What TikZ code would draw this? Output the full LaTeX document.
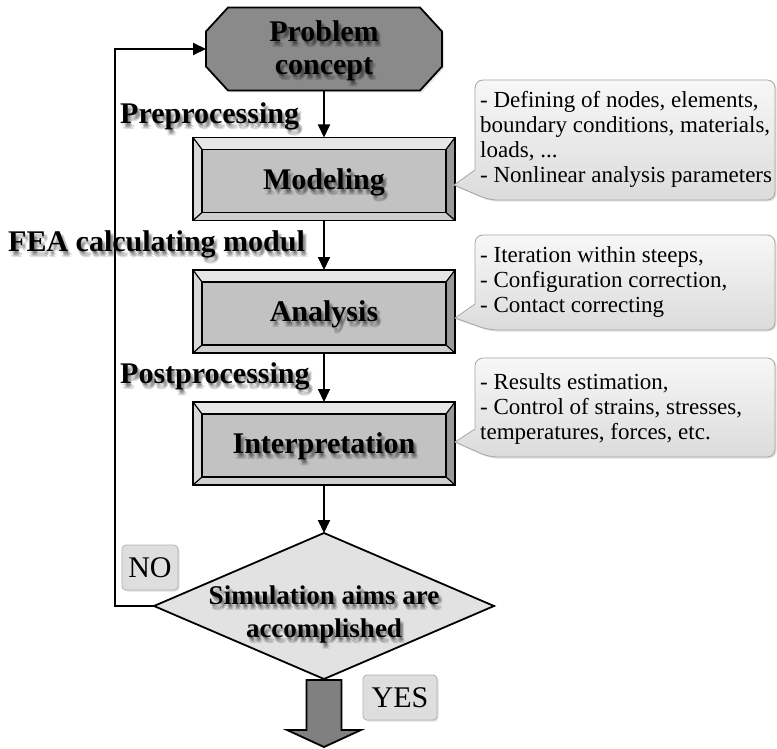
\documentclass[tikz,border=0pt]{standalone}
\usepackage{fontspec}
\setmainfont{Liberation Serif}
\usetikzlibrary{calc,shapes.geometric,arrows.meta,shadows}

\definecolor{face}{HTML}{C2C2C2}
\definecolor{bvtop}{HTML}{E6E6E6}
\definecolor{bvleft}{HTML}{D8D8D8}
\definecolor{bvright}{HTML}{999999}
\definecolor{bvbot}{HTML}{CFCFCF}
\definecolor{octfill}{HTML}{8A8A8A}
\definecolor{diafill}{HTML}{E2E2E2}

\tikzset{
  ln/.style={line width=2pt, draw=black},
  arr/.style={ln, -{Triangle[length=13pt,width=12pt]}},
  title/.style={font=\fontsize{30}{33}\selectfont\bfseries, align=center, inner sep=0pt, text=black},
  dtitle/.style={font=\fontsize{27}{33}\selectfont\bfseries, align=center, inner sep=0pt, text=black},
  boxnode/.style={fill=face, minimum width=262pt, minimum height=83pt, inner sep=0pt, outer sep=0pt},
  holder/.style={inner sep=0pt, outer sep=0pt},
  callfill/.style={top color=white!97!black, bottom color=black!14, draw=black!35, line width=0.8pt,
     drop shadow={opacity=0.25, shadow xshift=1.5pt, shadow yshift=-1.5pt}},
  ctext/.style={font=\fontsize{23}{25}\selectfont, align=left, inner sep=0pt, anchor=west},
  lab/.style={rounded corners=4pt, fill=black!13, draw=black!30, line width=0.8pt,
     font=\fontsize{30}{30}\selectfont, inner sep=0pt,
     drop shadow={opacity=0.25, shadow xshift=1.5pt, shadow yshift=-1.5pt}},
  blk/.style={line width=1.8pt, draw=black, fill=black!50, line join=miter},
}

\newcommand\bevel[1]{%
 \fill[bvtop] (#1.north west) -- (#1.north east) -- ($(#1.north east)+(-9,12)$) -- ($(#1.north west)+(9,12)$) -- cycle;
 \fill[bvleft] (#1.north west) -- ($(#1.north west)+(9,12)$) -- ($(#1.south west)+(9,-8)$) -- (#1.south west) -- cycle;
 \fill[bvright] (#1.north east) -- ($(#1.north east)+(-9,12)$) -- ($(#1.south east)+(-9,-8)$) -- (#1.south east) -- cycle;
 \fill[bvbot] (#1.south west) -- ($(#1.south west)+(9,-8)$) -- ($(#1.south east)+(-9,-8)$) -- (#1.south east) -- cycle;
 \draw[line width=1.6pt] (#1.north west) rectangle (#1.south east);
 \draw[line width=1.6pt] ($(#1.north west)+(9,12)$) rectangle ($(#1.south east)+(-9,-8)$);
 \draw[line width=1.2pt] (#1.north west) -- ($(#1.north west)+(9,12)$)
   (#1.north east) -- ($(#1.north east)+(-9,12)$)
   (#1.south west) -- ($(#1.south west)+(9,-8)$)
   (#1.south east) -- ($(#1.south east)+(-9,-8)$);
}

\newcommand\shtext[4]{%
  \foreach \k/\dx/\dy in {a/1/2,b/3/3,c/2/5,d/4/4,e/3/6}{%
    \node[#3, opacity=0.12] (#1\k) at ($(#2)+(\dx,\dy)$) {#4};}
  \node[#3] (#1) at (#2) {#4};
}

\begin{document}
\begin{tikzpicture}[x=1pt,y=-1pt]
\useasboundingbox (0,0) rectangle (777,749);
\fill[white] (0,0) rectangle (777,749);

% ---- Problem concept (octagon)
\node[holder, minimum width=236pt, minimum height=83pt] (pc) at (324,49) {};
\draw[line width=1.8pt, fill=octfill, line join=miter,
      drop shadow={opacity=0.2, shadow xshift=2pt, shadow yshift=-2pt}]
  ($(pc.north west)+(22,0)$) -- ($(pc.north east)+(-22,0)$) -- ($(pc.north east)+(0,24)$)
  -- ($(pc.south east)+(0,-24)$) -- ($(pc.south east)+(-22,0)$) -- ($(pc.south west)+(22,0)$)
  -- ($(pc.south west)+(0,-24)$) -- ($(pc.north west)+(0,24)$) -- cycle;
\coordinate (pcc) at ($(pc)+(0,2)$);
\shtext{pct}{pcc}{title}{Problem\\concept}

% ---- bevel boxes
\node[boxnode] (mod) at (324,179) {};
\bevel{mod}
\coordinate (modc) at ($(mod)+(0,3)$);
\shtext{modt}{modc}{title}{Modeling}

\node[boxnode] (ana) at (324,311.5) {};
\bevel{ana}
\coordinate (anac) at ($(ana)+(0,3)$);
\shtext{anat}{anac}{title}{Analysis}

\node[boxnode] (int) at (324,443.5) {};
\bevel{int}
\coordinate (intc) at ($(int)+(0,3)$);
\shtext{intt}{intc}{title}{Interpretation}

% ---- decision diamond
\node[diamond, draw=black, line width=1.8pt, fill=diafill, minimum width=340pt, minimum height=146pt,
      inner sep=0pt, outer sep=0pt] (dia) at (324,606) {};
\coordinate (diac) at (324,615);
\shtext{diat}{diac}{dtitle}{Simulation aims are\\accomplished}

% ---- side labels
\coordinate (lpre) at (120,116);
\shtext{pre}{lpre}{title, anchor=west}{Preprocessing}
\coordinate (lfea) at (8,244);
\shtext{fea}{lfea}{title, anchor=west}{FEA calculating modul}
\coordinate (lpost) at (120,376);
\shtext{post}{lpost}{title, anchor=west}{Postprocessing}

% ---- connectors
\draw[arr] (pc.south) -- (mod.north);
\draw[arr] (mod.south) -- (ana.north);
\draw[arr] (ana.south) -- (int.north);
\draw[arr] (int.south) -- (dia.north);
\coordinate (lp) at (115,49);
\draw[arr] (dia.west) -| (lp) -- (pc.west);

% ---- YES block arrow
\coordinate (ys) at (dia.south);
\draw[blk] ($(ys)+(-17.5,1)$) -- ($(ys)+(-17.5,51)$) -- ($(ys)+(-37,51)$) -- ($(ys)+(0,68)$)
  -- ($(ys)+(37,51)$) -- ($(ys)+(17.5,51)$) -- ($(ys)+(17.5,1)$) -- cycle;

% ---- NO / YES labels
\node[lab, minimum width=56pt, minimum height=45pt] (no) at (150,567.5) {NO};
\node[lab, minimum width=74pt, minimum height=45pt] (yes) at (400,697.5) {YES};

% ---- callouts
\node[holder, minimum width=300pt, minimum height=120pt] (c1) at (625,140) {};
\coordinate (t1) at ($(mod.east)+(-1,6)$);
\path[callfill] (t1) -- ($(c1.south west)+(0,-30)$) [rounded corners=8pt] -- (c1.north west) -- (c1.north east)
   -- (c1.south east) -- ($(c1.south west)+(14,0)$) [sharp corners] -- cycle;
\node[ctext] (c1t) at ($(c1.west)+(5,-1)$) {- Defining of nodes, elements,\\boundary conditions, materials,\\loads, ...\\- Nonlinear analysis parameters};

\node[holder, minimum width=300pt, minimum height=95pt] (c2) at (625,282.5) {};
\coordinate (t2) at ($(ana.east)+(0,6.5)$);
\path[callfill] (t2) -- ($(c2.south west)+(0,-26)$) [rounded corners=8pt] -- (c2.north west) -- (c2.north east)
   -- (c2.south east) -- ($(c2.south west)+(14,0)$) [sharp corners] -- cycle;
\node[ctext] (c2t) at ($(c2.west)+(5,0)$) {- Iteration within steeps,\\- Configuration correction,\\- Contact correcting};

\node[holder, minimum width=300pt, minimum height=99pt] (c3) at (625,407.5) {};
\coordinate (t3) at ($(int.east)+(0,-1.5)$);
\path[callfill] (t3) -- ($(c3.south west)+(0,-28)$) [rounded corners=8pt] -- (c3.north west) -- (c3.north east)
   -- (c3.south east) -- ($(c3.south west)+(14,0)$) [sharp corners] -- cycle;
\node[ctext] (c3t) at ($(c3.west)+(5,1)$) {- Results estimation,\\- Control of strains, stresses,\\temperatures, forces, etc.};

\end{tikzpicture}
\end{document}
